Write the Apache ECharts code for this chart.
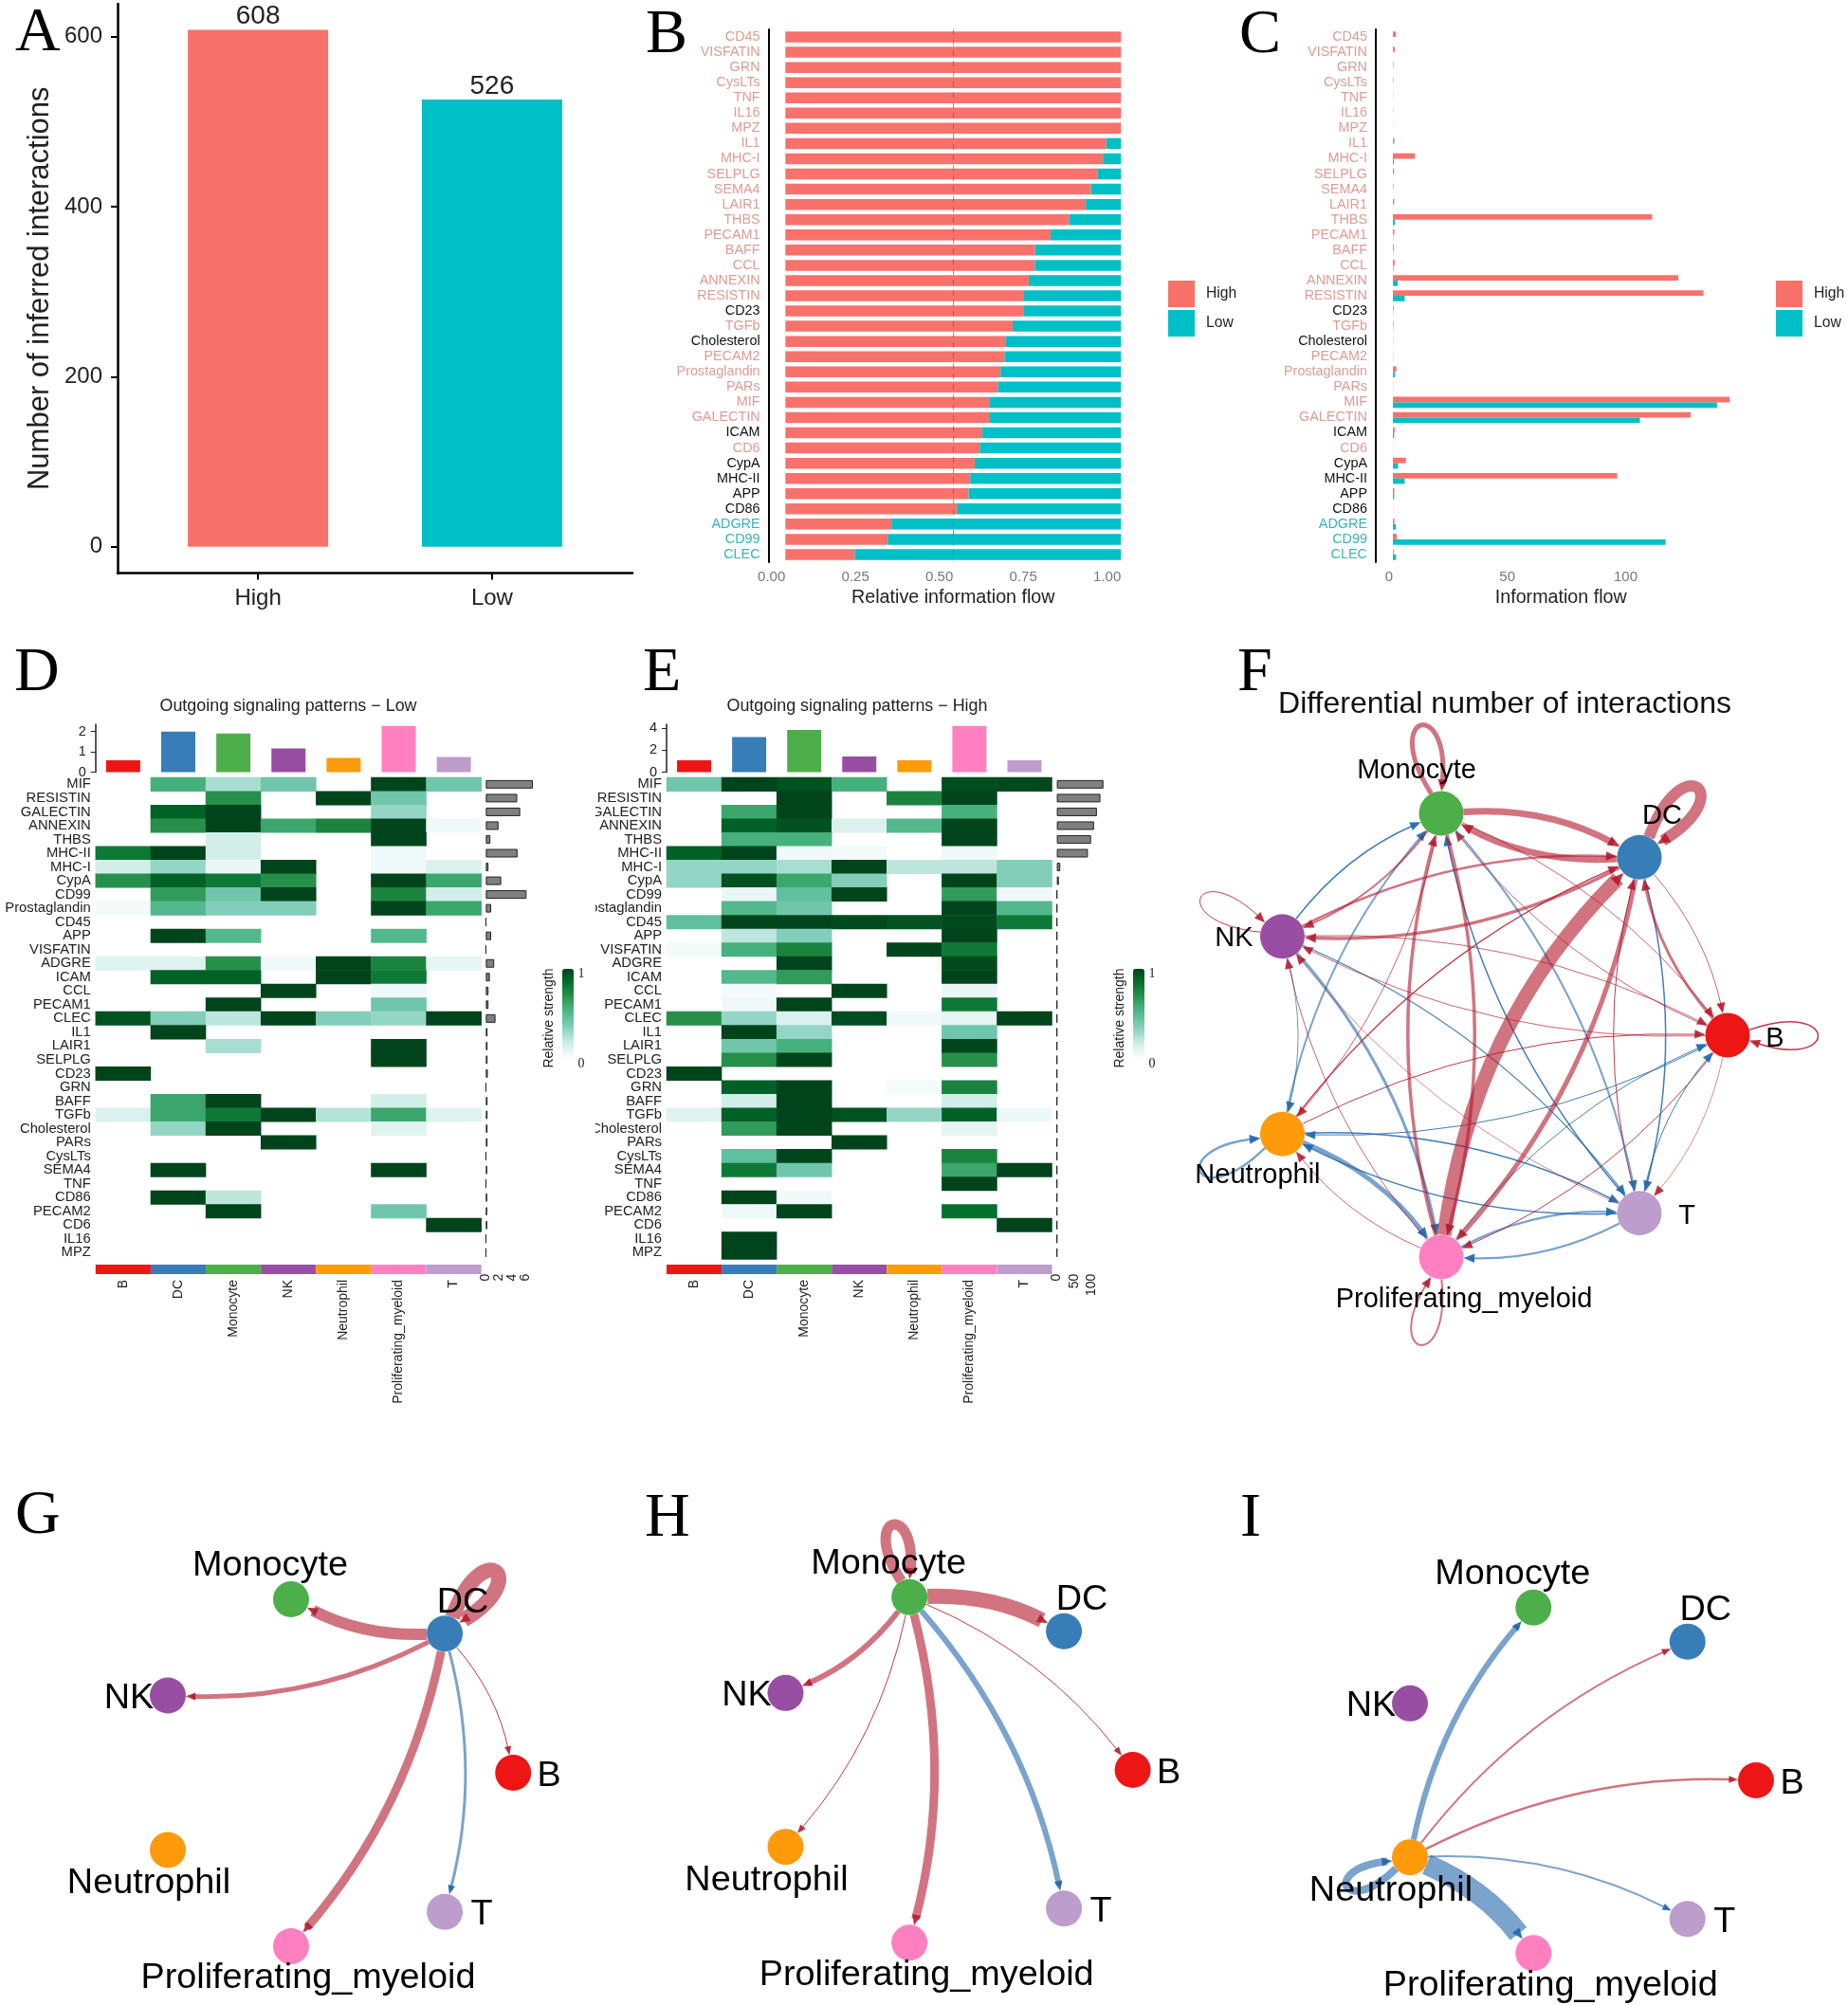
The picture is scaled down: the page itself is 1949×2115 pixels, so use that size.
<!DOCTYPE html>
<html><head><meta charset="utf-8">
<style>html,body{margin:0;padding:0;background:#fff}#c{width:1949px;height:2115px}</style>
<script src="https://cdn.jsdelivr.net/npm/echarts@6/dist/echarts.min.js"></script>
</head><body><div id="c"></div>
<script>
// ---------- DATA ----------
const groups = ['High', 'Low'];
const interactionCounts = [608, 526];
const flowPathways = ['CD45','VISFATIN','GRN','CysLTs','TNF','IL16','MPZ','IL1','MHC-I','SELPLG','SEMA4','LAIR1','THBS','PECAM1','BAFF','CCL','ANNEXIN','RESISTIN','CD23','TGFb','Cholesterol','PECAM2','Prostaglandin','PARs','MIF','GALECTIN','ICAM','CD6','CypA','MHC-II','APP','CD86','ADGRE','CD99','CLEC'];
const relHigh = [1,1,1,1,1,1,1,.956,.946,.931,.91,.895,.845,.79,.744,.743,.725,.711,.709,.677,.657,.653,.641,.633,.607,.607,.587,.579,.564,.551,.546,.511,.316,.305,.207];
const relLow = [0,0,0,0,0,0,0,.044,.054,.069,.09,.105,.155,.21,.256,.257,.275,.289,.291,.323,.343,.347,.359,.367,.393,.393,.413,.421,.436,.449,.454,.489,.684,.695,.793];
const infoHigh = [1.2,.8,.2,.2,.1,.1,.05,.6,9,.5,.2,.5,106,.6,.4,.7,116.7,127,.3,.2,.1,.1,1.4,.1,137.7,121.8,.7,.05,5.3,91.7,.6,.05,.6,1.6,.3];
const infoLow = [0,0,0,0,0,0,0,.03,.4,.04,.02,.05,.8,.1,.1,.2,2,4.8,.1,.1,.05,.05,.8,.05,132.5,101,.5,.03,2.1,4.8,.5,.05,1.2,111.5,1.3];
const blackPathways = ['CD23','Cholesterol','ICAM','CypA','MHC-II','APP','CD86'];
const tealPathways = ['ADGRE','CD99','CLEC'];

const cellTypes = ['B','DC','Monocyte','NK','Neutrophil','Proliferating_myeloid','T'];
const cellColors = ['#EE1515','#377EB8','#4DAF4A','#984EA3','#FF9A0A','#FF80C0','#BC9DCC'];
const heatRows = ['MIF','RESISTIN','GALECTIN','ANNEXIN','THBS','MHC-II','MHC-I','CypA','CD99','Prostaglandin','CD45','APP','VISFATIN','ADGRE','ICAM','CCL','PECAM1','CLEC','IL1','LAIR1','SELPLG','CD23','GRN','BAFF','TGFb','Cholesterol','PARs','CysLTs','SEMA4','TNF','CD86','PECAM2','CD6','IL16','MPZ'];
const _ = null;
const heatLow = [
[_,.55,.25,.4,_,1,.4],[_,_,.7,_,1,.4,_],[_,.9,1,_,_,.3,_],[_,.7,1,.6,.75,1,.03],[_,_,.15,_,_,1,_],
[.8,1,.15,_,_,.03,_],[.15,.3,.05,1,_,.03,.12],[.7,.9,.8,.7,_,1,.6],[_,.65,.4,1,_,.75,.15],[.02,.5,.35,.35,_,1,.6],
[_,_,_,_,_,_,_],[_,1,.5,_,_,.5,_],[_,_,_,_,_,_,_],[.1,.1,.7,.03,1,.75,.07],[_,.9,.9,_,1,.8,_],
[_,_,_,1,_,.03,_],[_,_,1,_,_,.4,_],[.95,.35,.2,1,.35,.3,1],[_,1,_,_,_,_,_],[_,_,.25,_,_,1,_],
[_,_,_,_,_,1,_],[1,_,_,_,_,_,_],[_,_,_,_,_,_,_],[_,.6,1,_,_,.15,_],[.12,.6,.8,1,.22,.6,.1],
[_,.3,1,_,_,.1,_],[_,_,_,1,_,_,_],[_,_,_,_,_,_,_],[_,1,_,_,_,1,_],[_,_,_,_,_,_,_],
[_,1,.2,_,_,_,_],[_,_,1,_,_,.4,_],[_,_,_,_,_,_,1],[_,_,_,_,_,_,_],[_,_,_,_,_,_,_]];
const heatHigh = [
[.4,1,.95,.55,_,.97,.98],[_,_,1,_,.75,1,_],[_,.6,1,_,_,.55,_],[_,.9,.95,.12,.5,1,_],[_,.55,.55,_,_,1,_],
[.9,1,.03,.02,_,.03,_],[.3,.3,.25,1,.2,.2,.35],[.3,.95,.6,.35,_,1,.35],[_,.05,.45,1,_,.65,.03],[_,.5,.4,_,_,1,.5],
[.45,1,1,.98,.95,.98,.8],[_,.2,.35,_,_,1,_],[.02,.55,.75,_,1,.8,_],[_,_,1,_,_,.98,_],[_,.5,.65,_,_,1,_],
[_,.01,_,1,_,.05,_],[_,.03,1,_,_,.8,_],[.7,.3,.12,.97,.03,.08,1],[_,1,.3,_,_,.4,_],[_,.4,.55,_,_,1,_],
[_,.7,1,_,_,.7,_],[1,_,_,_,_,_,_],[_,.9,1,_,.01,.75,_],[_,.15,1,_,_,.15,_],[.1,.9,1,.95,.3,.9,.04],
[_,.65,1,_,_,.08,_],[_,_,_,1,_,_,_],[_,.45,1,_,_,.75,_],[_,.8,.4,_,_,.6,1],[_,_,_,_,_,1,_],
[_,1,.03,_,_,_,_],[_,.03,1,_,_,.85,_],[_,_,_,_,_,_,1],[_,1,_,_,_,_,_],[_,1,_,_,_,_,_]];
const topLow = [.58,2,1.91,1.17,.7,2.28,.75];
const topHigh = [1.07,3.18,3.83,1.42,1.07,4.2,1.07];
const sideLow = [7.06,4.7,5.15,1.9,.68,4.75,.4,2.3,6.1,.8,.02,.8,.02,1.25,.6,.4,.4,1.45,.25,.25,.25,.3,.02,.25,.25,.25,.25,.02,.2,.02,.2,.2,.2,.02,.02];
const sideHigh = [134.8,126,116,107.6,99,90,9.8,6,.5,.5,.5,.5,.5,.5,.5,.5,.5,.5,.5,.5,.5,.5,.5,.5,.5,.5,.5,.5,.5,.5,.5,.5,.5,.5,.5];
// edges: [from, to, weight, kind] kind 0 = up in High, 1 = up in Low; indices follow cellTypes
const edgesF = [[4,5,5,1],[5,4,.8,0],[4,6,1.5,1],[6,4,1.2,1],[5,6,2.2,1],[6,5,2.2,1],[3,4,.8,1],[3,5,3,1],[5,3,.8,0],[3,6,1.2,1],[6,3,.6,0],
[3,0,.8,0],[0,3,.8,0],[4,0,1,0],[0,4,1,1],[5,0,1,1],[0,5,1,0],[6,0,1,1],[0,6,.6,0],[4,1,1.2,0],[1,6,1.5,1],[6,1,1,0],
[2,0,.8,0],[0,2,.8,0],[2,6,2,1],[6,2,1.5,1],[2,4,.8,0],[4,2,2,1],[2,3,2,0],[3,2,1.5,1],[2,5,3.5,0],[5,2,3.5,0],
[1,0,.8,0],[0,1,3,0],[1,3,3.5,0],[3,1,2.5,0],[2,1,7,0],[1,2,7,0],[1,5,5,0],[5,1,15,0],
[1,1,12,0],[2,2,5,0],[0,0,1.5,0],[3,3,1,0],[4,4,2.5,1],[5,5,2,0]];
const edgesG = [[1,1,16,0],[1,2,12,0],[1,3,5,0],[1,5,9,0],[1,6,3,1],[1,0,1,0]];
const edgesH = [[2,2,11,0],[2,1,16,0],[2,3,6,0],[2,4,1,0],[2,5,9,0],[2,6,6,1],[2,0,1,0]];
const edgesI = [[4,4,8,1],[4,2,6,1],[4,1,2,0],[4,0,2.5,0],[4,6,2,1],[4,5,22,1]];

// ---------- STYLE & LAYOUT ----------
const SANS = '"Liberation Sans", Arial, sans-serif', SERIF = '"Liberation Serif", serif';
const RED = '#F8716B', TEAL = '#00BFC7';
const HEAT = ['#F7FCFD','#D5EFEA','#99D8C9','#66C2A4','#41AE76','#238B45','#006D2C','#00441B'];
const option = { animation:false, backgroundColor:'#fff', textStyle:{fontFamily:SANS}, grid:[], xAxis:[], yAxis:[], series:[], legend:[], visualMap:[], graphic:[] };
function addGrid(l,t,r,b){ option.grid.push({left:l,top:t,width:r-l,height:b-t,containLabel:false}); return option.grid.length-1; }
function addSeries(s){ option.series.push(s); return option.series.length-1; }
function hidden(extra){ return Object.assign({show:false},extra); }
const gl = {show:false};

// Panel A
{ const g = addGrid(124,4,667,604.5);
  option.xAxis.push({gridIndex:g,type:'value',min:.4,max:2.6,splitLine:gl,
    axisLine:{onZero:false,lineStyle:{color:'#000',width:2.5}},axisTick:{length:7,customValues:[1,2],lineStyle:{color:'#000',width:2}},
    axisLabel:{customValues:[1,2],formatter:v=>groups[v-1],fontSize:24,color:'#222',margin:15}});
  option.yAxis.push({gridIndex:g,type:'value',min:-31,max:638.6,splitLine:gl,name:'Number of inferred interactions',nameLocation:'middle',nameGap:66,nameTextStyle:{fontSize:31,color:'#222'},
    axisLine:{show:true,onZero:false,lineStyle:{color:'#000',width:2.5}},axisTick:{show:true,length:7,customValues:[0,200,400,600],lineStyle:{color:'#000',width:2}},
    axisLabel:{customValues:[0,200,400,600],fontSize:24,color:'#222',margin:16,padding:[4,0,0,0]}});
  addSeries({name:'Interactions',type:'bar',xAxisIndex:option.xAxis.length-1,yAxisIndex:option.yAxis.length-1,barWidth:148,
    data:interactionCounts.map((v,i)=>({value:[i+1,v],itemStyle:{color:i?TEAL:RED}})),
    label:{show:true,position:'top',distance:0,fontSize:28,color:'#222',formatter:p=>p.value[1]}});
}
const pathColor = v => blackPathways.includes(v)?'#111':tealPathways.includes(v)?'#35B5B8':'#DE9C94';
function flowAxes(g,xmin,xmax,xfmt,ticks,name){
  option.xAxis.push({gridIndex:g,type:'value',min:xmin,max:xmax,splitLine:gl,name,nameLocation:'middle',nameGap:28,nameTextStyle:{fontSize:19.7,color:'#222'},
    axisLine:{onZero:false,lineStyle:{color:'#000',width:2}},axisTick:{length:5,customValues:ticks,lineStyle:{color:'#333',width:1.2}},
    axisLabel:{customValues:ticks,formatter:xfmt,fontSize:15,color:'#777',align:'right',margin:8}});
  option.yAxis.push({gridIndex:g,type:'category',data:flowPathways,inverse:true,splitLine:gl,
    axisLine:{onZero:false,lineStyle:{color:'#000',width:2}},axisTick:{length:5,alignWithLabel:true,lineStyle:{color:'#000',width:1.5}},
    axisLabel:{interval:0,fontSize:14.4,margin:9,color:pathColor}});
  return [option.xAxis.length-1,option.yAxis.length-1];
}
// Panel B
{ const g = addGrid(810.6,31,1200,593);
  const [x,y] = flowAxes(g,-.05,1.05,v=>v.toFixed(2),[0,.25,.5,.75,1],'Relative information flow');
  addSeries({name:'High',type:'bar',stack:'b',xAxisIndex:x,yAxisIndex:y,barWidth:11.5,itemStyle:{color:RED},data:relHigh,
    markLine:{silent:true,symbol:'none',label:{show:false},data:[{xAxis:.5}],lineStyle:{type:[6,5],color:'rgba(90,90,90,.6)',width:1}}});
  addSeries({name:'Low',type:'bar',stack:'b',xAxisIndex:x,yAxisIndex:y,barWidth:11.5,itemStyle:{color:TEAL},data:relLow});
}
// Panel C
{ const g = addGrid(1451,31,1841.5,593);
  const [x,y] = flowAxes(g,-7,144.4,v=>String(v),[0,50,100],'Information flow');
  addSeries({name:'High',type:'bar',xAxisIndex:x,yAxisIndex:y,barWidth:5.8,barGap:'0%',itemStyle:{color:RED},data:infoHigh});
  addSeries({name:'Low',type:'bar',xAxisIndex:x,yAxisIndex:y,barWidth:5.8,barGap:'0%',itemStyle:{color:TEAL},data:infoLow});
}
[[1232],[1873]].forEach(([l])=>option.legend.push({data:groups,orient:'vertical',left:l,top:296,padding:0,itemWidth:28,itemHeight:28,itemGap:3,icon:'rect',selectedMode:false,textStyle:{fontSize:15.7,color:'#222',padding:[0,0,0,7]},itemStyle:{borderWidth:0}}));

// Panels D, E
function heatPanel(o){
  const L=o.left,R=o.right,T=820.1,B=1328.6;
  // top bars
  let g = addGrid(L,764,R,814.5);
  option.xAxis.push({gridIndex:g,type:'category',data:cellTypes,show:false});
  option.yAxis.push({gridIndex:g,type:'value',min:0,max:o.topMax,splitLine:gl,axisLine:{show:true,lineStyle:{color:'#222',width:1.5}},axisTick:{show:true,length:5,customValues:o.topTicks,lineStyle:{color:'#222'}},axisLabel:{customValues:o.topTicks,fontSize:14.5,color:'#222',margin:10}});
  addSeries({name:'top'+o.title,type:'bar',xAxisIndex:option.xAxis.length-1,yAxisIndex:option.yAxis.length-1,barWidth:36,data:o.top.map((v,i)=>({value:v,itemStyle:{color:cellColors[i]}}))});
  // heat
  g = addGrid(L,T,R,B);
  option.xAxis.push({gridIndex:g,type:'category',data:cellTypes,show:false});
  option.yAxis.push({gridIndex:g,type:'category',data:heatRows,inverse:true,axisLine:{show:false},axisTick:{show:false},splitLine:gl,axisLabel:{interval:0,fontSize:14.8,color:'#222',margin:5}});
  const cells=[]; o.heat.forEach((row,r)=>row.forEach((v,c)=>{ if(v!==null) cells.push([c,r,v]); }));
  const hi = addSeries({name:'heat'+o.title,type:'heatmap',xAxisIndex:option.xAxis.length-1,yAxisIndex:option.yAxis.length-1,data:cells,itemStyle:{borderWidth:0},progressive:0});
  option.visualMap.push({type:'continuous',seriesIndex:hi,min:0,max:1,left:o.legendX,top:1022,itemWidth:12,itemHeight:93,calculable:false,showLabel:false,text:null,inRange:{color:HEAT},padding:0,hoverLink:false});
  // side bars
  g = addGrid(o.sideL,T,o.sideR,B);
  option.xAxis.push({gridIndex:g,type:'value',min:0,max:o.sideMax,splitLine:gl,axisLine:{lineStyle:{color:'#222',width:1.3}},axisTick:{length:8,customValues:o.sideTicks,lineStyle:{color:'#222'}},axisLabel:{customValues:o.sideTicks,rotate:90,fontSize:14,color:'#222',margin:15}});
  option.yAxis.push({gridIndex:g,type:'category',data:heatRows,inverse:true,show:false});
  addSeries({name:'side'+o.title,type:'bar',xAxisIndex:option.xAxis.length-1,yAxisIndex:option.yAxis.length-1,barWidth:9,itemStyle:{color:'#808080',borderColor:'#222',borderWidth:1},data:o.side});
  // annotation strip
  g = addGrid(L,1334,R,1344);
  option.xAxis.push({gridIndex:g,type:'category',data:cellTypes,axisLine:{show:false},axisTick:{show:false},axisLabel:{interval:0,rotate:90,fontSize:14,color:'#222',margin:6}});
  option.yAxis.push({gridIndex:g,type:'value',min:0,max:1,show:false});
  addSeries({name:'strip'+o.title,type:'bar',xAxisIndex:option.xAxis.length-1,yAxisIndex:option.yAxis.length-1,barCategoryGap:'0%',data:cellColors.map(c=>({value:1,itemStyle:{color:c}}))});
  txt(o.title,o.titleX,745,'17.9px '+SANS,'#222');
  txt('Relative strength',o.legendX-14,1074,'14px '+SANS,'#222',Math.PI/2);
  txt('1',o.legendX+20,1027,'14px '+SERIF,'#222');
  txt('0',o.legendX+20,1122,'14px '+SERIF,'#222');
}
function txt(text,x,y,font,fill,rotation,align){
  option.graphic.push({type:'text',x,y,rotation:rotation||0,z:50,silent:true,style:{text,font,fill,align:align||'center',verticalAlign:'middle',textAlign:align||'center',textVerticalAlign:'middle'}});
}
heatPanel({left:100.8,right:507.7,top:topLow,topMax:2.36,topTicks:[0,1,2],heat:heatLow,side:sideLow,sideL:512.4,sideR:564.6,sideMax:7.42,sideTicks:[0,2,4,6],title:'Outgoing signaling patterns \u2212 Low',titleX:304,legendX:593});
heatPanel({left:703,right:1109.5,top:topHigh,topMax:4.35,topTicks:[0,2,4],heat:heatHigh,side:sideHigh,sideL:1114.6,sideR:1166,sideMax:141,sideTicks:[0,50,100],title:'Outgoing signaling patterns \u2212 High',titleX:904,legendX:1195});
// left edge of panel E's row labels is cut off in the source figure
option.graphic.push({type:'rect',z:40,silent:true,shape:{x:606,y:818,width:22,height:175},style:{fill:'#fff'}});
option.graphic.push({type:'rect',z:40,silent:true,shape:{x:606,y:1150,width:22,height:180},style:{fill:'#fff'}});

// Networks
const nodeAngle = i => i*2*Math.PI/7;
const nodeX = cellTypes.map((_t,i)=>Math.cos(nodeAngle(i)));
const nodeY = cellTypes.map((_t,i)=>Math.sin(nodeAngle(i)));
function network(o){
  const g = addGrid(o.cx-o.rx,o.cy-o.ry,o.cx+o.rx,o.cy+o.ry);
  option.xAxis.push(hidden({gridIndex:g,type:'value',min:-1,max:1}));
  option.yAxis.push(hidden({gridIndex:g,type:'value',min:-1,max:1}));
  const xi=option.xAxis.length-1, yi=option.yAxis.length-1, r=o.nodeR;
  addSeries({name:'edges',type:'custom',xAxisIndex:xi,yAxisIndex:yi,silent:true,clip:false,z:2,data:o.edges,
    renderItem(params,api){
      const a=api.value(0),b=api.value(1),w=api.value(2),k=api.value(3);
      const A=api.coord([nodeX[a],nodeY[a]]),B=api.coord([nodeX[b],nodeY[b]]);
      const alpha=w<1.6?.85:.6;
      const line=k?`rgba(33,102,172,${alpha})`:`rgba(178,24,43,${alpha})`, head=k?'rgba(33,102,172,.92)':'rgba(178,24,43,.88)';
      const al=o.arrowL+Math.min(w,10)*.25, ah=o.arrowW+Math.min(w,10)*.12;
      const arrow=(tip,ux,uy)=>({type:'polygon',shape:{points:[tip,[tip[0]-ux*al-uy*ah,tip[1]-uy*al+ux*ah],[tip[0]-ux*al+uy*ah,tip[1]-uy*al-ux*ah]]},style:{fill:head}});
      if(a===b){
        const C=[o.cx,o.cy], dx=A[0]-C[0], dy=A[1]-C[1];
        const dir=Math.atan2(dy,dx), pol=(ang,len)=>[A[0]+len*Math.cos(dir+ang),A[1]+len*Math.sin(dir+ang)];
        const k2=(o.loop-.25*r)/(.75*.95);
        const p0=pol(-.24,r),c1=pol(-.32,k2),c2=pol(.32,k2),p3=pol(.24,r);
        const ul=Math.hypot(p3[0]-c2[0],p3[1]-c2[1]),ux=(p3[0]-c2[0])/ul,uy=(p3[1]-c2[1])/ul;
        return {type:'group',children:[
          {type:'bezierCurve',shape:{x1:p0[0],y1:p0[1],cpx1:c1[0],cpy1:c1[1],cpx2:c2[0],cpy2:c2[1],x2:p3[0]-ux*al*.5,y2:p3[1]-uy*al*.5},style:{stroke:line,lineWidth:w,fill:null}},
          arrow(p3,ux,uy)]};
      }
      const dx=B[0]-A[0],dy=B[1]-A[1],c=o.curve+o.curveW*w;
      const cp=[(A[0]+B[0])/2+c*dy,(A[1]+B[1])/2-c*dx];
      const ua=Math.hypot(cp[0]-A[0],cp[1]-A[1]),ub=Math.hypot(cp[0]-B[0],cp[1]-B[1]);
      const p0=[A[0]+(cp[0]-A[0])/ua*r,A[1]+(cp[1]-A[1])/ua*r];
      const ux=(B[0]-cp[0])/ub,uy=(B[1]-cp[1])/ub;
      const tip=[B[0]-ux*r,B[1]-uy*r];
      return {type:'group',children:[
        {type:'bezierCurve',shape:{x1:p0[0],y1:p0[1],cpx1:cp[0],cpy1:cp[1],x2:tip[0]-ux*al*.6,y2:tip[1]-uy*al*.6},style:{stroke:line,lineWidth:w,fill:null}},
        arrow(tip,ux,uy)]};
    }});
  addSeries({name:'cells',type:'scatter',xAxisIndex:xi,yAxisIndex:yi,silent:true,clip:false,z:3,symbolSize:2*r,
    data:cellTypes.map((n,i)=>({name:n,value:[nodeX[i],nodeY[i]],itemStyle:{color:cellColors[i],opacity:1},
      label:{show:true,position:'inside',align:'center',verticalAlign:'middle',offset:o.labels[i],formatter:'{b}',fontSize:o.font,color:'#000'}}))});
}
const labelF=[[50,4],[24,-43],[-26,-45],[-51,2],[-26,44],[24,45],[50,3]];
const labelS=[[38,4],[19,-33],[-22,-35],[-41,3],[-20,35],[18,34],[39,3]];
network({cx:1575,cy:1092,rx:247,ry:240,nodeR:23.5,edges:edgesF,labels:labelF,font:29,loop:95,curve:.125,curveW:.003,arrowL:11,arrowW:4.5});
network({cx:349.6,cy:1870,rx:191.6,ry:187.7,nodeR:19,edges:edgesG,labels:labelS,font:37.8,loop:84,curve:.13,curveW:0,arrowL:9,arrowW:3.5});
network({cx:1002,cy:1867,rx:192.6,ry:187,nodeR:19,edges:edgesH,labels:labelS,font:37.8,loop:78,curve:.13,curveW:0,arrowL:9,arrowW:3.5});
network({cx:1660,cy:1878,rx:192,ry:187,nodeR:19,edges:edgesI,labels:labelS,font:37.8,loop:73,curve:.13,curveW:0,arrowL:9,arrowW:3.5});
txt('Differential number of interactions',1587,743.5,'32px '+SANS,'#111');

// Panel letters
[['A',16,36],['B',681,38],['C',1307,38],['D',15,711],['E',678,711],['F',1305,711],['G',16,1600],['H',680,1603],['I',1308,1603]]
  .forEach(([t,x,y])=>txt(t,x,y,'66px '+SERIF,'#000',0,'left'));

echarts.init(document.getElementById('c'),null,{renderer:'canvas'}).setOption(option);
</script></body></html>
